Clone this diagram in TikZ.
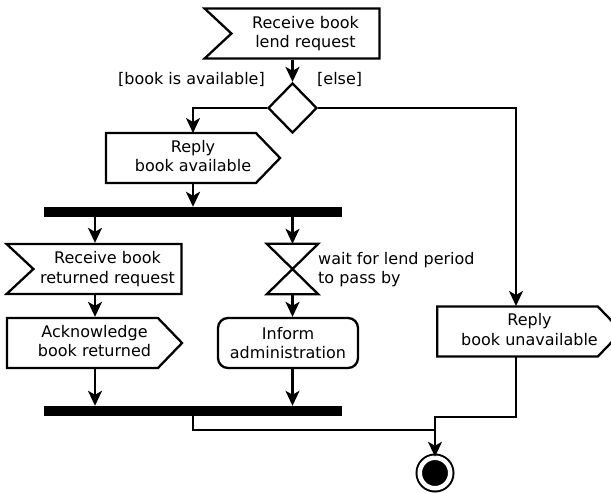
\documentclass[tikz,border=0pt]{standalone}
\usepackage{fontspec}
\setmainfont{DejaVu Sans}
\usetikzlibrary{shapes.symbols,shapes.geometric,arrows.meta}

% text of a send signal sits in the middle of the whole shape
\newcommand{\sendtext}[1]{\hspace*{24pt}\begin{tabular}{@{}c@{}}#1\end{tabular}}

\tikzset{
  flow/.style={line width=2.3pt,-{Stealth[length=15pt,width=14pt,inset=4pt]}},
  wire/.style={line width=2.3pt},
  recv/.style={signal, signal from=west, signal to=nowhere, signal pointer angle=86,
    draw, line width=2.3pt, align=center, inner sep=0pt, minimum height=50pt},
  send/.style={signal, signal to=east, signal pointer angle=92,
    draw, line width=2.3pt, inner sep=0pt, minimum height=50pt},
  action/.style={rectangle, rounded corners=10pt, draw, line width=2.3pt, align=center,
    inner sep=0pt, minimum width=140pt, minimum height=50pt},
  bar/.style={rectangle, fill=black, inner sep=0pt, minimum width=298pt, minimum height=10pt},
  guard/.style={inner sep=0pt}
}

\begin{document}
\begin{tikzpicture}[x=1pt,y=-1pt,font=\fontsize{16}{19.5}\selectfont]
\useasboundingbox (0,0) rectangle (611,493);

% receive the lend request and decide
\node[recv, minimum width=175pt] (lendreq) at (305.5,33.5) {Receive book\\lend request};
\node[diamond, draw, line width=2.3pt, inner sep=0pt, minimum width=49pt, minimum height=50pt] (avail) at (292.5,108) {};

\node[send, minimum width=174pt] (replyyes) at (181,158) {\sendtext{Reply\\book available}};
\node[send, minimum width=171pt] (replyno) at (517.5,331.5) {\sendtext{Reply\\book unavailable}};

\node[guard, anchor=east] (gyes) at (265,79) {[book is available]};
\node[guard, anchor=west] (gno) at (317,79) {[else]};

\draw[flow] (avail.north |- lendreq.south) -- (avail);
\draw[flow] (avail.west) -| (193,133);
\draw[flow] (avail.east) -| (516,306);

% fork
\node[bar] (fork) at (193,212) {};
\draw[flow] (fork.north |- replyyes.south) -- (fork);

\node[recv, minimum width=175pt] (retreq) at (107.5,269) {Receive book\\returned request};
\node[send, minimum width=175pt] (ack) at (82.5,343) {\sendtext{Acknowledge\\book returned}};

\node[rectangle, inner sep=0pt, minimum width=51pt, minimum height=50pt] (wait) at (292.5,269) {};
\draw[wire, line join=miter] (wait.north west) -- (wait.north east) -- (wait.south west)
  -- (wait.south east) -- cycle;
\node[guard, anchor=west, align=left] (waitlbl) at (318,269.5) {wait for lend period\\to pass by};

\node[action] (inform) at (288,343) {Inform\\administration};

\coordinate (lane) at (95,0);
\draw[flow] (lane |- fork.south) -- (lane |- retreq.north);
\draw[flow] (wait.north |- fork.south) -- (wait.north);
\draw[flow] (lane |- retreq.south) -- (lane |- ack.north);
\draw[flow] (wait.south) -- (wait.south |- inform.north);

% join
\node[bar] (join) at (193,411) {};
\draw[flow] (lane |- ack.south) -- (lane |- join.north);
\draw[flow] (wait.south |- inform.south) -- (wait.south |- join.north);

% end
\node[circle, draw, line width=2pt, double=white, double distance=4.5pt, fill=black,
  inner sep=0pt, minimum size=30.5pt] (final) at (435,473) {};

\coordinate (m1) at (435,417);
\coordinate (m2) at (435,430);
\draw[flow] (516,357) |- (m1) -- (final.north);
\draw[wire] (join.south) |- (m2);
\end{tikzpicture}
\end{document}
